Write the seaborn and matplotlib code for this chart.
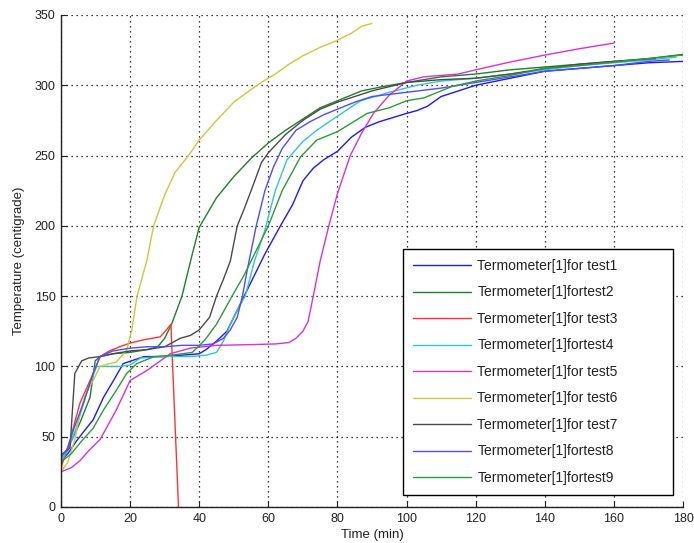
import pandas as pd
import numpy as np
import matplotlib
matplotlib.use("Agg")
import matplotlib.pyplot as plt
import seaborn as sns

# Thermometer[1] readings per test (time in min, temperature in centigrade)
t1 = [0, 2, 4.5, 7, 9.3, 12.3, 15.2, 18, 21, 24, 30, 35, 40, 42, 45, 48, 51, 55, 59, 63.5, 67, 70, 73, 76, 80, 84, 88, 92, 96, 100, 103, 106, 110, 115, 120, 130, 140, 150, 160, 170, 180]
T1 = [33, 38, 47, 55, 62, 78, 90, 102, 104.5, 107, 107, 108, 109, 112, 118, 125, 140, 160, 180, 200, 215, 232, 241, 247, 253, 263, 270, 274, 277, 280, 282, 285, 292, 296, 300, 305, 310, 312, 314, 316, 317]

t2 = [0, 2.6, 5.5, 8.4, 9.9, 11.3, 15, 20, 25, 28, 30, 32, 35, 38, 40, 45, 50, 55, 60, 65, 70, 75, 80, 87, 93, 100, 110, 120, 130, 140, 150, 160, 170, 180]
T2 = [30, 45, 60, 78, 104, 107, 109, 110, 112, 114, 120, 130, 150, 180, 199, 220, 235, 248, 259, 268, 276, 284, 289, 296, 299, 302, 306, 308, 311, 313, 315, 317, 319, 322]

t3 = [0, 2.6, 5.5, 7.5, 9.3, 11.3, 14, 17, 20, 24, 28.7, 30.5, 31.8, 34.0]
T3 = [28, 47.6, 74, 85, 95, 107, 111, 114, 116.6, 119, 121, 126, 130, 0]

t4 = [0, 2, 4.5, 7.4, 10.3, 14, 17, 20, 23, 30, 37.4, 42, 45, 47, 49, 51, 53.3, 56, 59, 62, 65.4, 70, 74, 80, 86.7, 95, 103, 110, 120, 130, 140, 150, 160, 170, 178]
T4 = [33, 40, 57, 81, 100, 100, 100, 101, 106, 107, 107, 108, 110, 118, 130, 140, 150, 175, 197, 225, 247, 260, 268, 278, 289, 295, 300, 303, 305, 308, 311, 314, 316, 318, 320]

t5 = [0, 3, 5.5, 8, 11.3, 16, 20, 24.8, 31.6, 37.4, 45, 55, 62, 66, 68, 70, 71.5, 73, 75, 77.5, 80, 83.7, 87, 90.4, 95, 100, 105, 110, 115, 120, 129, 140, 150, 160]
T5 = [25, 28, 33, 40, 48, 69, 90, 97, 109, 113, 115, 115.5, 116, 117, 120, 125, 132, 150, 175, 200, 223, 250, 266, 280, 293, 303, 306, 307, 308, 311, 316, 321.5, 326, 330]

t6 = [0, 2, 4, 5.5, 7, 9.3, 11.3, 14, 16, 19, 20.5, 22, 24.8, 26.8, 30, 33, 36.9, 40, 45, 50, 55, 58.6, 62, 66, 70, 75, 80, 84, 87, 90]
T6 = [25, 32, 48, 67, 80, 90, 100, 102, 103, 111.7, 126, 150, 175, 200, 222, 238, 250, 261, 275, 288, 297, 303, 308, 315, 321, 327, 332, 337, 342, 344]

t7 = [0, 2.6, 4, 6, 8, 11.3, 15, 20, 25, 30, 34.5, 37.4, 40, 43, 45, 47, 49, 51, 53, 55, 58, 60, 65, 70, 75, 80, 90, 100, 110, 120, 130, 140, 150, 160, 172]
T7 = [37, 42, 95, 104, 106, 107, 109, 111, 112, 114, 120, 122, 126, 135, 150, 162, 175, 200, 212, 225, 245, 252, 265, 275, 283, 288, 296, 302, 304, 305, 308, 312, 315, 317, 319]

t8 = [0, 2, 3.6, 6.5, 9.3, 11.3, 15, 20, 25, 30, 35, 40, 44, 47, 49, 51, 52.5, 54, 56.5, 59, 61.5, 64, 68, 72, 76, 80, 85, 90, 100, 110, 120, 130, 140, 150, 160, 170, 176]
T8 = [35, 42, 55, 74, 95, 107, 111, 113, 114, 114, 115, 115, 116, 120, 126, 135, 150, 170, 200, 225, 242, 255, 268, 274, 279, 283, 288, 292, 295, 298, 302, 306, 310, 312, 314, 317, 318]

t9 = [0, 3, 6, 9.3, 12.3, 16, 19, 21.9, 27, 32, 38, 41.7, 45, 49.5, 53, 56, 60, 64, 69.3, 74, 80, 88.6, 95, 100, 105, 113, 120, 130, 140, 150, 160, 170, 180]
T9 = [32, 38, 47, 56, 69, 83, 95, 102, 107, 108, 110, 119, 130, 150, 165, 180, 200, 225, 249, 261, 267, 280, 284, 289, 291, 299, 303, 307, 312, 314, 316.5, 319, 321.5]

labels = ["Termometer[1]for test1", "Termometer[1]fortest2", "Termometer[1]for test3",
          "Termometer[1]fortest4", "Termometer[1]for test5", "Termometer[1]for test6",
          "Termometer[1]for test7", "Termometer[1]fortest8", "Termometer[1]fortest9"]
colors = ["#1a1aff", "#1f7f2a", "#ff3333", "#33c6c6", "#d633d6",
          "#c9c93a", "#4a4a4a", "#4d4dff", "#2f9a3a"]

times = [t1, t2, t3, t4, t5, t6, t7, t8, t9]
temps = [T1, T2, T3, T4, T5, T6, T7, T8, T9]

df = pd.concat([pd.DataFrame({"time": t, "temp": T, "test": lab})
                for t, T, lab in zip(times, temps, labels)], ignore_index=True)

sns.set_style("white")
plt.rcParams["font.family"] = ["Liberation Sans", "DejaVu Sans"]

fig = plt.figure(figsize=(6.94, 5.43), dpi=100)
ax = fig.add_axes([0.0879, 0.0663, 0.8963, 0.9061])

sns.lineplot(data=df, x="time", y="temp", hue="test", hue_order=labels,
             palette=colors, estimator=None, sort=False, linewidth=1.0, ax=ax)

ax.set_xlim(0, 180)
ax.set_ylim(0, 350)
ax.set_xticks(np.arange(0, 181, 20))
ax.set_yticks(np.arange(0, 351, 50))
ax.grid(True, color="black", linestyle=(0, (1, 3)), linewidth=0.9)
ax.tick_params(direction="in", length=4, labelsize=9, colors="#222222", left=True, bottom=True, pad=4)
for side in ["top", "right"]:
    ax.spines[side].set_visible(False)
for side in ["left", "bottom"]:
    ax.spines[side].set_color("#222222")
    ax.spines[side].set_linewidth(1.0)

ax.set_xlabel("Time (min)", fontsize=9.5, color="#222222", labelpad=3)
ax.set_ylabel("Temperature (centigrade)", fontsize=9.5, color="#222222", labelpad=7)

# MATLAB-style legend box: wide, text left-aligned with lots of room on the right
leg = ax.legend(loc="upper left", bbox_to_anchor=(0.55, 0.02, 0.434, 0.504), mode="expand",
                fontsize=10, frameon=True, fancybox=False, edgecolor="black", framealpha=1,
                handlelength=4.2, handletextpad=0.45, labelspacing=0.9,
                borderpad=0.7, borderaxespad=0)
leg.get_frame().set_linewidth(1.0)
for txt in leg.get_texts():
    txt.set_color("#222222")

fig.savefig("out.png", dpi=100)
